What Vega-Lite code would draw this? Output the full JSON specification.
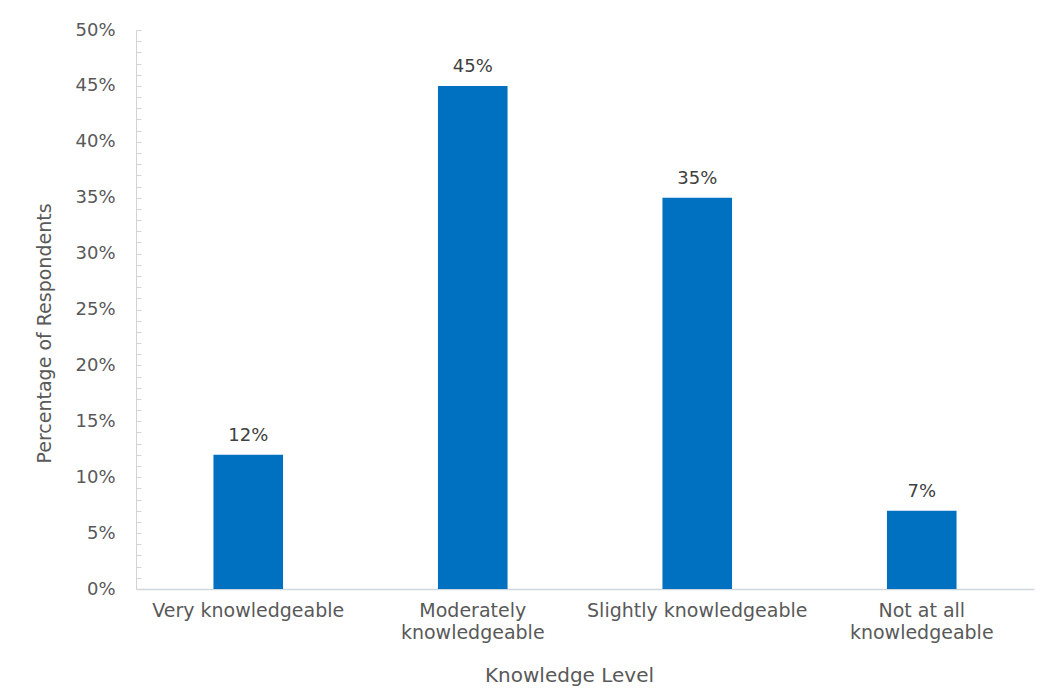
{
  "$schema": "https://vega.github.io/schema/vega-lite/v6.json",
  "width": 898,
  "height": 559,
  "autosize": {"type": "none"},
  "padding": {"left": 136, "top": 30, "right": 13, "bottom": 105},
  "background": "white",
  "config": {
    "view": {"stroke": null},
    "font": "DejaVu Sans"
  },
  "data": {
    "values": [
      {"level": "Very knowledgeable", "pct": 12, "label": "12%"},
      {"level": "Moderately knowledgeable", "pct": 45, "label": "45%"},
      {"level": "Slightly knowledgeable", "pct": 35, "label": "35%"},
      {"level": "Not at all knowledgeable", "pct": 7, "label": "7%"}
    ]
  },
  "encoding": {
    "x": {
      "field": "level",
      "type": "nominal",
      "sort": null,
      "scale": {"paddingInner": 0.69, "paddingOuter": 0.345},
      "axis": {
        "title": "Knowledge  Level",
        "titleFont": "DejaVu Sans",
        "titleFontSize": 20,
        "titleFontWeight": "normal",
        "titleColor": "#595959",
        "titleX": 433,
        "titlePadding": 23,
        "labelAngle": 0,
        "labelFont": "DejaVu Sans",
        "labelFontSize": 19,
        "labelColor": "#595959",
        "labelLimit": 0,
        "labelPadding": 12,
        "labelLineHeight": 22,
        "labelBaseline": "top",
        "labelExpr": "datum.value == 'Moderately knowledgeable' ? ['Moderately', 'knowledgeable'] : datum.value == 'Not at all knowledgeable' ? ['Not at all', 'knowledgeable'] : datum.value",
        "ticks": false,
        "domainColor": "#d0d6de",
        "domainWidth": 1.5
      }
    },
    "y": {
      "field": "pct",
      "type": "quantitative",
      "scale": {"domain": [0, 50], "nice": false},
      "axis": {
        "title": "Percentage of Respondents",
        "titleFont": "DejaVu Sans",
        "titleFontSize": 19,
        "titleFontWeight": "normal",
        "titleColor": "#595959",
        "titlePadding": 20,
        "titleY": 303,
        "values": [0,1,2,3,4,5,6,7,8,9,10,11,12,13,14,15,16,17,18,19,20,21,22,23,24,25,26,27,28,29,30,31,32,33,34,35,36,37,38,39,40,41,42,43,44,45,46,47,48,49,50],
        "labelExpr": "datum.value % 5 == 0 ? datum.value + '%' : ''",
        "labelOverlap": false,
        "labelFont": "DejaVu Sans",
        "labelFontSize": 18,
        "labelColor": "#595959",
        "labelPadding": 26,
        "tickSize": -5,
        "tickColor": "#d4d4d4",
        "domainColor": "#d4d4d4",
        "grid": false
      }
    }
  },
  "layer": [
    {"mark": {"type": "bar", "color": "#0070C0"}},
    {
      "mark": {"type": "text", "dy": -10, "baseline": "bottom", "font": "DejaVu Sans", "fontSize": 18, "color": "#404040"},
      "encoding": {"text": {"field": "label", "type": "nominal"}}
    }
  ]
}
